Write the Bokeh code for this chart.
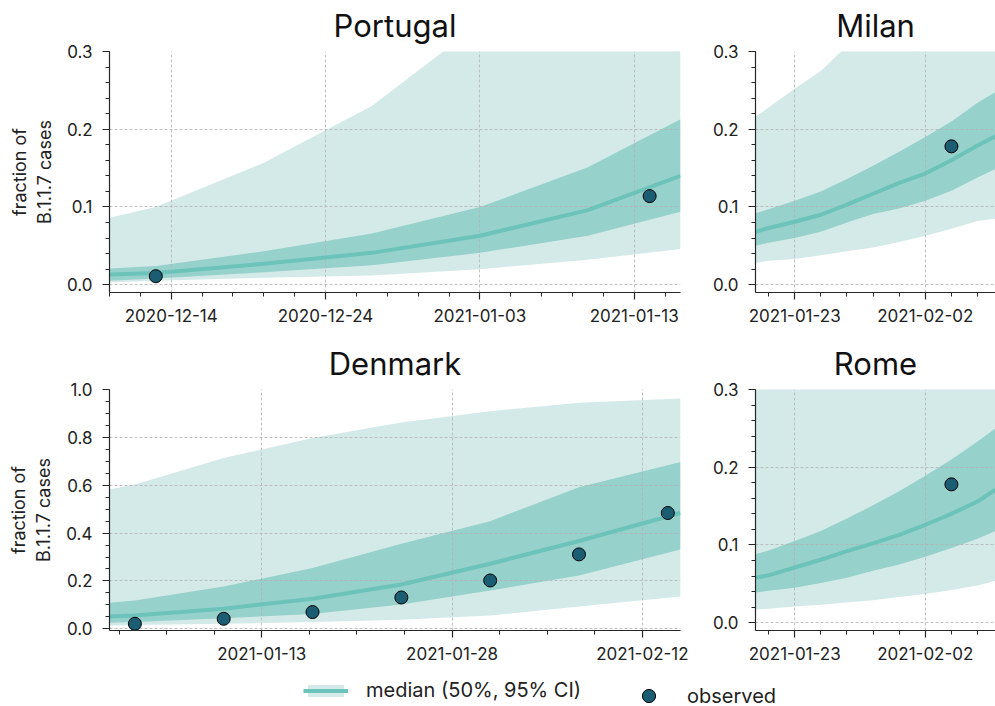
import numpy as np
import pandas as pd
from bokeh.plotting import figure
from bokeh.layouts import column, row
from bokeh.models import (Range1d, FixedTicker, DatetimeTickFormatter,
                          NumeralTickFormatter, Legend, LegendItem, LinearAxis)
from bokeh.embed import file_html
from bokeh.resources import INLINE

# ---------------- data ----------------
# Portugal
pt_dates = ["2020-12-10", "2020-12-13", "2020-12-20", "2020-12-27", "2021-01-03", "2021-01-10", "2021-01-16"]
pt_median = [0.013, 0.015, 0.027, 0.041, 0.063, 0.096, 0.140]
pt_lo50 = [0.005, 0.008, 0.016, 0.025, 0.041, 0.063, 0.094]
pt_hi50 = [0.021, 0.024, 0.043, 0.066, 0.100, 0.151, 0.213]
pt_lo95 = [0.003, 0.005, 0.009, 0.012, 0.020, 0.032, 0.046]
pt_hi95 = [0.086, 0.100, 0.157, 0.230, 0.336, 0.460, 0.600]
pt_obs_dates = ["2020-12-13", "2021-01-14"]
pt_obs = [0.011, 0.114]
pt_xticks = ["2020-12-14", "2020-12-24", "2021-01-03", "2021-01-13"]

# Milan / Rome share the same dates
it_dates = ["2021-01-20 00:00", "2021-01-21 00:00", "2021-01-23 00:00", "2021-01-25 00:00",
            "2021-01-27 00:00", "2021-01-29 00:00", "2021-01-31 00:00", "2021-02-02 00:00",
            "2021-02-04 00:00", "2021-02-06 00:00", "2021-02-07 09:00"]
it_xticks = ["2021-01-23", "2021-02-02"]

# Milan
mi_median = [0.068, 0.073, 0.081, 0.090, 0.103, 0.117, 0.131, 0.143, 0.160, 0.179, 0.191]
mi_lo50 = [0.050, 0.054, 0.060, 0.068, 0.080, 0.091, 0.098, 0.108, 0.121, 0.138, 0.149]
mi_hi50 = [0.092, 0.097, 0.108, 0.120, 0.136, 0.153, 0.171, 0.190, 0.210, 0.234, 0.248]
mi_lo95 = [0.028, 0.031, 0.033, 0.038, 0.043, 0.048, 0.055, 0.063, 0.072, 0.082, 0.085]
mi_hi95 = [0.216, 0.228, 0.252, 0.275, 0.307, 0.335, 0.365, 0.395, 0.425, 0.455, 0.475]
mi_obs_dates = ["2021-02-04"]
mi_obs = [0.178]

# Rome
ro_median = [0.058, 0.061, 0.071, 0.081, 0.092, 0.102, 0.113, 0.126, 0.140, 0.156, 0.171]
ro_lo50 = [0.039, 0.041, 0.045, 0.051, 0.058, 0.067, 0.075, 0.085, 0.096, 0.108, 0.118]
ro_hi50 = [0.088, 0.093, 0.105, 0.118, 0.134, 0.151, 0.169, 0.189, 0.210, 0.233, 0.250]
ro_lo95 = [0.017, 0.018, 0.021, 0.023, 0.026, 0.029, 0.033, 0.037, 0.042, 0.048, 0.054]
ro_hi95 = [0.450, 0.470, 0.500, 0.530, 0.560, 0.590, 0.620, 0.650, 0.680, 0.710, 0.730]
ro_obs_dates = ["2021-02-04"]
ro_obs = [0.178]

# Denmark
dk_dates = ["2021-01-01", "2021-01-03", "2021-01-10", "2021-01-17", "2021-01-24", "2021-01-31", "2021-02-07", "2021-02-15"]
dk_median = [0.051, 0.056, 0.084, 0.126, 0.185, 0.272, 0.367, 0.484]
dk_lo50 = [0.025, 0.028, 0.044, 0.062, 0.102, 0.160, 0.223, 0.331]
dk_hi50 = [0.109, 0.118, 0.177, 0.254, 0.356, 0.450, 0.592, 0.697]
dk_lo95 = [0.014, 0.016, 0.021, 0.028, 0.038, 0.056, 0.093, 0.135]
dk_hi95 = [0.582, 0.603, 0.714, 0.797, 0.862, 0.909, 0.945, 0.962]
dk_obs_dates = ["2021-01-03", "2021-01-10", "2021-01-17", "2021-01-24", "2021-01-31", "2021-02-07", "2021-02-14"]
dk_obs = [0.021, 0.042, 0.070, 0.131, 0.202, 0.311, 0.484]
dk_xticks = ["2021-01-13", "2021-01-28", "2021-02-12"]

LIGHT = "#d3eae8"
DARK = "#97d1cc"
LINE = "#6cc3ba"
DOT = "#1b5d72"
AX = "#262626"
FONT = "Inter"
DAY = 86400000


def ms(d):
    return int(pd.Timestamp(d).value // 10**6)


def to_dt(lst):
    return pd.to_datetime(lst, format="mixed")


def make_panel(title, dates, med, lo50, hi50, lo95, hi95, obs_dates, obs,
               x0, x1, y0, y1, xticks, minor_step_days, ymaj, ymin_step,
               width, height, mb_left, mb_right, mb_top, mb_bottom, ylabel=None):
    x = to_dt(dates)
    p = figure(width=width, height=height, x_axis_type="datetime",
               x_range=Range1d(pd.Timestamp(x0), pd.Timestamp(x1)),
               y_range=Range1d(y0, y1), output_backend="svg",
               toolbar_location=None, min_border_left=mb_left,
               min_border_right=mb_right, min_border_top=mb_top,
               min_border_bottom=mb_bottom)
    p.outline_line_color = None
    p.background_fill_color = "white"

    p.varea(x=x, y1=lo95, y2=hi95, fill_color=LIGHT, level="image")
    p.varea(x=x, y1=lo50, y2=hi50, fill_color=DARK, level="image")
    p.line(x=x, y=med, line_color=LINE, line_width=4)
    p.scatter(x=to_dt(obs_dates), y=obs, size=13, fill_color=DOT,
              line_color="black", line_width=1)

    # x ticks
    maj = [ms(t) for t in xticks]
    step = minor_step_days * DAY
    lo_ms, hi_ms = ms(x0), ms(x1)
    k0 = int(np.floor((lo_ms - maj[0]) / step)) - 1
    k1 = int(np.ceil((hi_ms - maj[0]) / step)) + 1
    minors = [maj[0] + k * step for k in range(k0, k1 + 1)]
    minors = [int(m) for m in minors if lo_ms - 1 <= m <= hi_ms + 1]
    p.xaxis.ticker = FixedTicker(ticks=maj, minor_ticks=minors)
    p.xaxis.formatter = DatetimeTickFormatter(days="%Y-%m-%d", months="%Y-%m-%d",
                                              hours="%Y-%m-%d", years="%Y-%m-%d")
    p.xaxis.major_label_overrides = {m: t for m, t in zip(maj, xticks)}

    # y ticks
    yminors = [float(v) for v in np.round(np.arange(0, y1 + 1e-9, ymin_step), 4)]
    p.yaxis.ticker = FixedTicker(ticks=ymaj, minor_ticks=yminors)
    p.yaxis.formatter = NumeralTickFormatter(format="0.0")

    for ax in (p.xaxis[0], p.yaxis[0]):
        ax.axis_line_color = AX
        ax.axis_line_width = 1.2
        ax.major_tick_line_color = AX
        ax.minor_tick_line_color = AX
        ax.major_tick_line_width = 1.2
        ax.minor_tick_line_width = 1
        ax.major_tick_in = 0
        ax.major_tick_out = 7
        ax.minor_tick_in = 0
        ax.minor_tick_out = 4
        ax.major_label_text_font = FONT
        ax.major_label_text_font_size = "17px"
        ax.major_label_text_color = "#222222"
    p.xaxis.major_label_standoff = 9
    p.yaxis.major_label_standoff = 10

    if ylabel:
        p.yaxis.axis_label = ylabel
        p.yaxis.axis_label_text_font = FONT
        p.yaxis.axis_label_text_font_size = "18px"
        p.yaxis.axis_label_text_font_style = "normal"
        p.yaxis.axis_label_text_color = "#222222"
        p.yaxis.axis_label_standoff = 9

    for g in (p.xgrid[0], p.ygrid[0]):
        g.grid_line_color = "#b3b3b3"
        g.grid_line_dash = "3 2"
        g.grid_line_width = 0.8

    # panel title drawn as the label of an empty axis above the frame
    tax = LinearAxis(ticker=FixedTicker(ticks=[]), axis_label=title,
                     axis_line_color=None, major_tick_out=0, major_tick_in=0,
                     minor_tick_out=0, minor_tick_in=0, major_label_standoff=0,
                     axis_label_standoff=8, axis_label_text_font=FONT,
                     axis_label_text_font_size="31px",
                     axis_label_text_font_style="normal",
                     axis_label_text_color="#111111")
    p.add_layout(tax, "above")
    return p


YL = "fraction of\nB.1.1.7 cases"

p_pt = make_panel("Portugal", pt_dates, pt_median, pt_lo50, pt_hi50, pt_lo95, pt_hi95,
                  pt_obs_dates, pt_obs, "2020-12-10", "2021-01-16", -0.01, 0.3,
                  pt_xticks, 2, [0.0, 0.1, 0.2, 0.3], 0.02,
                  705, 334, 109, 25, 51, 42, ylabel=YL)
p_mi = make_panel("Milan", it_dates, mi_median, mi_lo50, mi_hi50, mi_lo95, mi_hi95,
                  mi_obs_dates, mi_obs, "2021-01-20", "2021-02-07 09:00", -0.01, 0.3,
                  it_xticks, 2, [0.0, 0.1, 0.2, 0.3], 0.02,
                  290, 334, 50, 0, 51, 42)
p_dk = make_panel("Denmark", dk_dates, dk_median, dk_lo50, dk_hi50, dk_lo95, dk_hi95,
                  dk_obs_dates, dk_obs, "2021-01-01", "2021-02-15", -0.007, 1.0,
                  dk_xticks, 3.75, [0.0, 0.2, 0.4, 0.6, 0.8, 1.0], 0.05,
                  705, 336, 109, 25, 55, 40, ylabel=YL)
p_ro = make_panel("Rome", it_dates, ro_median, ro_lo50, ro_hi50, ro_lo95, ro_hi95,
                  ro_obs_dates, ro_obs, "2021-01-20", "2021-02-07 09:00", -0.01, 0.3,
                  it_xticks, 2, [0.0, 0.1, 0.2, 0.3], 0.02,
                  290, 336, 50, 0, 55, 40)

# legend strip (proxy renderers with a single NaN row, nothing drawn in the strip)
p_leg = figure(width=995, height=36, x_range=Range1d(0, 1), y_range=Range1d(0, 1),
               output_backend="svg", toolbar_location=None, min_border=0,
               x_axis_location=None, y_axis_location=None)
p_leg.outline_line_color = None
p_leg.grid.visible = False
nan = [float("nan")]
r_band = p_leg.varea(x=nan, y1=nan, y2=nan, fill_color=LIGHT)
r_line = p_leg.line(x=nan, y=nan, line_color=LINE, line_width=4)
r_dot = p_leg.scatter(x=nan, y=nan, fill_color=DOT, line_color="black", line_width=1, size=13)

leg1 = Legend(items=[LegendItem(label="median (50%, 95% CI)", renderers=[r_band, r_line])],
              location=(303, 4), glyph_width=45, glyph_height=15, label_height=15,
              label_standoff=18, padding=0, margin=0, border_line_color=None,
              background_fill_alpha=0, label_text_font=FONT, label_text_font_size="20px",
              label_text_color="#222222")
leg2 = Legend(items=[LegendItem(label="observed", renderers=[r_dot])],
              location=(626, -6), glyph_width=45, glyph_height=33, label_height=33,
              label_standoff=16, padding=0, margin=0, border_line_color=None,
              background_fill_alpha=0, label_text_font=FONT, label_text_font_size="20px",
              label_text_color="#222222")
p_leg.add_layout(leg1)
p_leg.add_layout(leg2)

layout = column(row(p_pt, p_mi), row(p_dk, p_ro), p_leg)

open("out.html", "w").write(file_html(layout, INLINE))
